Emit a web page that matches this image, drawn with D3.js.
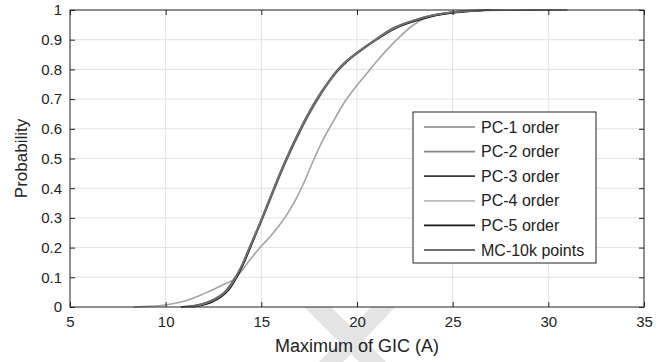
<!DOCTYPE html>
<html>
<head>
<meta charset="utf-8">
<script src="https://cdn.jsdelivr.net/npm/d3@7"></script>
<style>
  body { margin: 0; background: #fff; }
  svg { display: block; font-family: "Liberation Sans", Arial, sans-serif; }
</style>
</head>
<body>
<div id="container"></div>
<script>
/* DATA */
const xTicks = [5, 10, 15, 20, 25, 30, 35];
const yTicks = [0, 0.1, 0.2, 0.3, 0.4, 0.5, 0.6, 0.7, 0.8, 0.9, 1];

// PC-1 order (the one that drifts away from the others)
const pc1X = [8.3, 9, 10, 11, 12, 13, 13.7, 14.3, 14.93, 15.5, 16, 16.4, 16.8, 17.2, 17.7, 18.2, 18.76, 19.27, 19.8, 20.5, 21, 22, 23, 24, 25, 26, 27];
const pc1P = [0, 0.002, 0.007, 0.02, 0.045, 0.075, 0.1, 0.15, 0.2, 0.24, 0.28, 0.318, 0.362, 0.415, 0.49, 0.56, 0.625, 0.682, 0.73, 0.785, 0.825, 0.895, 0.952, 0.982, 0.993, 0.998, 1];

// the rest sit almost on top of each other
const pc2X = [11.2, 11.8, 12.3, 12.8, 13.2, 13.6, 14, 14.5, 15, 15.5, 16, 16.5, 17, 17.5, 18, 18.5, 19, 19.5, 20, 21, 22, 23, 24, 25, 26, 27.5];
const pc2P = [0, 0.007, 0.018, 0.034, 0.056, 0.092, 0.143, 0.218, 0.294, 0.374, 0.454, 0.527, 0.594, 0.655, 0.709, 0.757, 0.799, 0.831, 0.857, 0.902, 0.941, 0.966, 0.983, 0.993, 0.998, 1];

const pc3X = [10.8, 11.5, 12, 12.5, 13, 13.5, 14, 14.5, 15, 15.5, 16, 16.5, 17, 17.5, 18, 18.5, 19, 19.5, 20, 21, 22, 23, 24, 25, 26, 27];
const pc3P = [0, 0.005, 0.012, 0.025, 0.045, 0.085, 0.14, 0.215, 0.29, 0.37, 0.45, 0.523, 0.59, 0.652, 0.707, 0.755, 0.797, 0.829, 0.855, 0.9, 0.94, 0.965, 0.982, 0.992, 0.997, 1];

const pc4X = [11, 11.6, 12.1, 12.6, 13, 13.5, 14, 14.5, 15, 15.5, 16, 16.5, 17, 17.5, 18, 18.5, 19, 19.5, 20, 21, 22, 23, 24, 25, 26, 27];
const pc4P = [0, 0.006, 0.014, 0.028, 0.046, 0.083, 0.137, 0.211, 0.286, 0.365, 0.445, 0.518, 0.586, 0.648, 0.703, 0.752, 0.794, 0.826, 0.852, 0.898, 0.939, 0.964, 0.981, 0.992, 0.997, 1];

const pc5X = [11.4, 11.9, 12.4, 12.9, 13.3, 13.7, 14.1, 14.5, 15, 15.5, 16, 16.5, 17, 17.5, 18, 18.5, 19, 19.5, 20, 21, 22, 23, 24, 25, 26, 27];
const pc5P = [0, 0.006, 0.016, 0.034, 0.058, 0.098, 0.15, 0.212, 0.292, 0.373, 0.452, 0.525, 0.592, 0.654, 0.708, 0.757, 0.798, 0.83, 0.855, 0.9, 0.938, 0.962, 0.98, 0.99, 0.996, 1];

const mcX = [11, 11.7, 12.2, 12.7, 13.1, 13.5, 13.9, 14.4, 14.9, 15.4, 15.9, 16.4, 16.9, 17.4, 17.9, 18.4, 18.9, 19.4, 19.9, 20.9, 21.9, 22.9, 23.9, 24.9, 26, 27.5, 31];
const mcP = [0, 0.006, 0.015, 0.03, 0.05, 0.086, 0.13, 0.205, 0.28, 0.36, 0.44, 0.515, 0.583, 0.646, 0.702, 0.75, 0.793, 0.826, 0.852, 0.898, 0.94, 0.964, 0.982, 0.992, 0.997, 0.999, 1];

const seriesNames = ["PC-1 order", "PC-2 order", "PC-3 order", "PC-4 order", "PC-5 order", "MC-10k points"];
const seriesColors = ["#a3a3a3", "#858585", "#383838", "#b8b8b8", "#161616", "#6e6e6e"];

/* CHART */
const width = 668;
const height = 362;
const margin = { top: 10, right: 24, bottom: 55, left: 70 };

const series = [
  { name: seriesNames[0], color: seriesColors[0], xs: pc1X, ps: pc1P },
  { name: seriesNames[1], color: seriesColors[1], xs: pc2X, ps: pc2P },
  { name: seriesNames[2], color: seriesColors[2], xs: pc3X, ps: pc3P },
  { name: seriesNames[3], color: seriesColors[3], xs: pc4X, ps: pc4P },
  { name: seriesNames[4], color: seriesColors[4], xs: pc5X, ps: pc5P },
  { name: seriesNames[5], color: seriesColors[5], xs: mcX, ps: mcP },
];

const xScale = d3.scaleLinear().domain([5, 35]).range([margin.left, width - margin.right]);
const yScale = d3.scaleLinear().domain([0, 1]).range([height - margin.bottom, margin.top]);

const svg = d3.select("#container")
  .append("svg")
  .attr("width", width)
  .attr("height", height);

// faint watermark behind the bottom of the figure
const wm = svg.append("g").attr("fill", "#e4e4e4");
wm.append("polygon").attr("points", "303,306 330,306 400,376 373,376");
wm.append("polygon").attr("points", "372,306 396,306 330,376 306,376");

const x0 = xScale.range()[0], x1 = xScale.range()[1];
const y0 = yScale.range()[0], y1 = yScale.range()[1];

svg.append("rect")
  .attr("x", x0).attr("y", y1)
  .attr("width", x1 - x0).attr("height", y0 - y1)
  .attr("fill", "#fff");

// GRID
svg.append("g")
  .selectAll("line")
  .data(xTicks.slice(1, -1))
  .join("line")
  .attr("x1", d => xScale(d)).attr("x2", d => xScale(d))
  .attr("y1", y1).attr("y2", y0)
  .attr("stroke", "#e2e2e2");

svg.append("g")
  .selectAll("line")
  .data(yTicks.slice(1, -1))
  .join("line")
  .attr("x1", x0).attr("x2", x1)
  .attr("y1", d => yScale(d)).attr("y2", d => yScale(d))
  .attr("stroke", "#e2e2e2");

// CURVES
const line = d3.line()
  .x(d => xScale(d[0]))
  .y(d => yScale(d[1]))
  .curve(d3.curveMonotoneX);

const drawOrder = [0, 3, 4, 2, 1, 5];
svg.append("g")
  .selectAll("path")
  .data(drawOrder.map(i => series[i]))
  .join("path")
  .attr("d", s => line(s.xs.map((v, i) => [v, s.ps[i]])))
  .attr("fill", "none")
  .attr("stroke", s => s.color)
  .attr("stroke-width", 1.6);

// AXES (ticks inside, box on)
svg.append("g")
  .attr("transform", `translate(0,${y0})`)
  .call(d3.axisBottom(xScale).tickValues(xTicks).tickSize(-5).tickPadding(9).tickFormat(d3.format("d")))
  .call(g => g.select(".domain").remove());

svg.append("g")
  .attr("transform", `translate(0,${y1})`)
  .call(d3.axisTop(xScale).tickValues(xTicks).tickSize(-5).tickFormat(""))
  .call(g => g.select(".domain").remove());

svg.append("g")
  .attr("transform", `translate(${x0},0)`)
  .call(d3.axisLeft(yScale).tickValues(yTicks).tickSize(-5).tickPadding(8).tickFormat(d => String(d)))
  .call(g => g.select(".domain").remove());

svg.append("g")
  .attr("transform", `translate(${x1},0)`)
  .call(d3.axisRight(yScale).tickValues(yTicks).tickSize(-5).tickFormat(""))
  .call(g => g.select(".domain").remove());

svg.selectAll(".tick text")
  .attr("font-size", 15)
  .attr("font-family", "Liberation Sans, Arial, sans-serif")
  .attr("fill", "#222");
svg.selectAll(".tick line").attr("stroke", "#222");

svg.append("rect")
  .attr("x", x0).attr("y", y1)
  .attr("width", x1 - x0).attr("height", y0 - y1)
  .attr("fill", "none")
  .attr("stroke", "#222");

// AXIS LABELS
svg.append("text")
  .attr("x", (x0 + x1) / 2)
  .attr("y", 352)
  .attr("text-anchor", "middle")
  .attr("font-size", 18)
  .attr("fill", "#222")
  .text("Maximum of GIC (A)");

svg.append("text")
  .attr("transform", `translate(27,${(y0 + y1) / 2}) rotate(-90)`)
  .attr("text-anchor", "middle")
  .attr("font-size", 17)
  .attr("fill", "#222")
  .text("Probability");

// LEGEND
const legend = svg.append("g");
legend.append("rect")
  .attr("x", 413).attr("y", 112)
  .attr("width", 183).attr("height", 151)
  .attr("fill", "#fff")
  .attr("stroke", "#222");

const rows = legend.selectAll(".legend-row")
  .data(series)
  .join("g")
  .attr("class", "legend-row")
  .attr("transform", (_, i) => `translate(0,${127 + i * 24.6})`);

rows.append("line")
  .attr("x1", 424).attr("x2", 475)
  .attr("stroke", d => d.color)
  .attr("stroke-width", 1.8);

rows.append("text")
  .attr("x", 481)
  .attr("dy", "0.35em")
  .attr("font-size", 16)
  .attr("fill", "#222")
  .text(d => d.name);
</script>
</body>
</html>
